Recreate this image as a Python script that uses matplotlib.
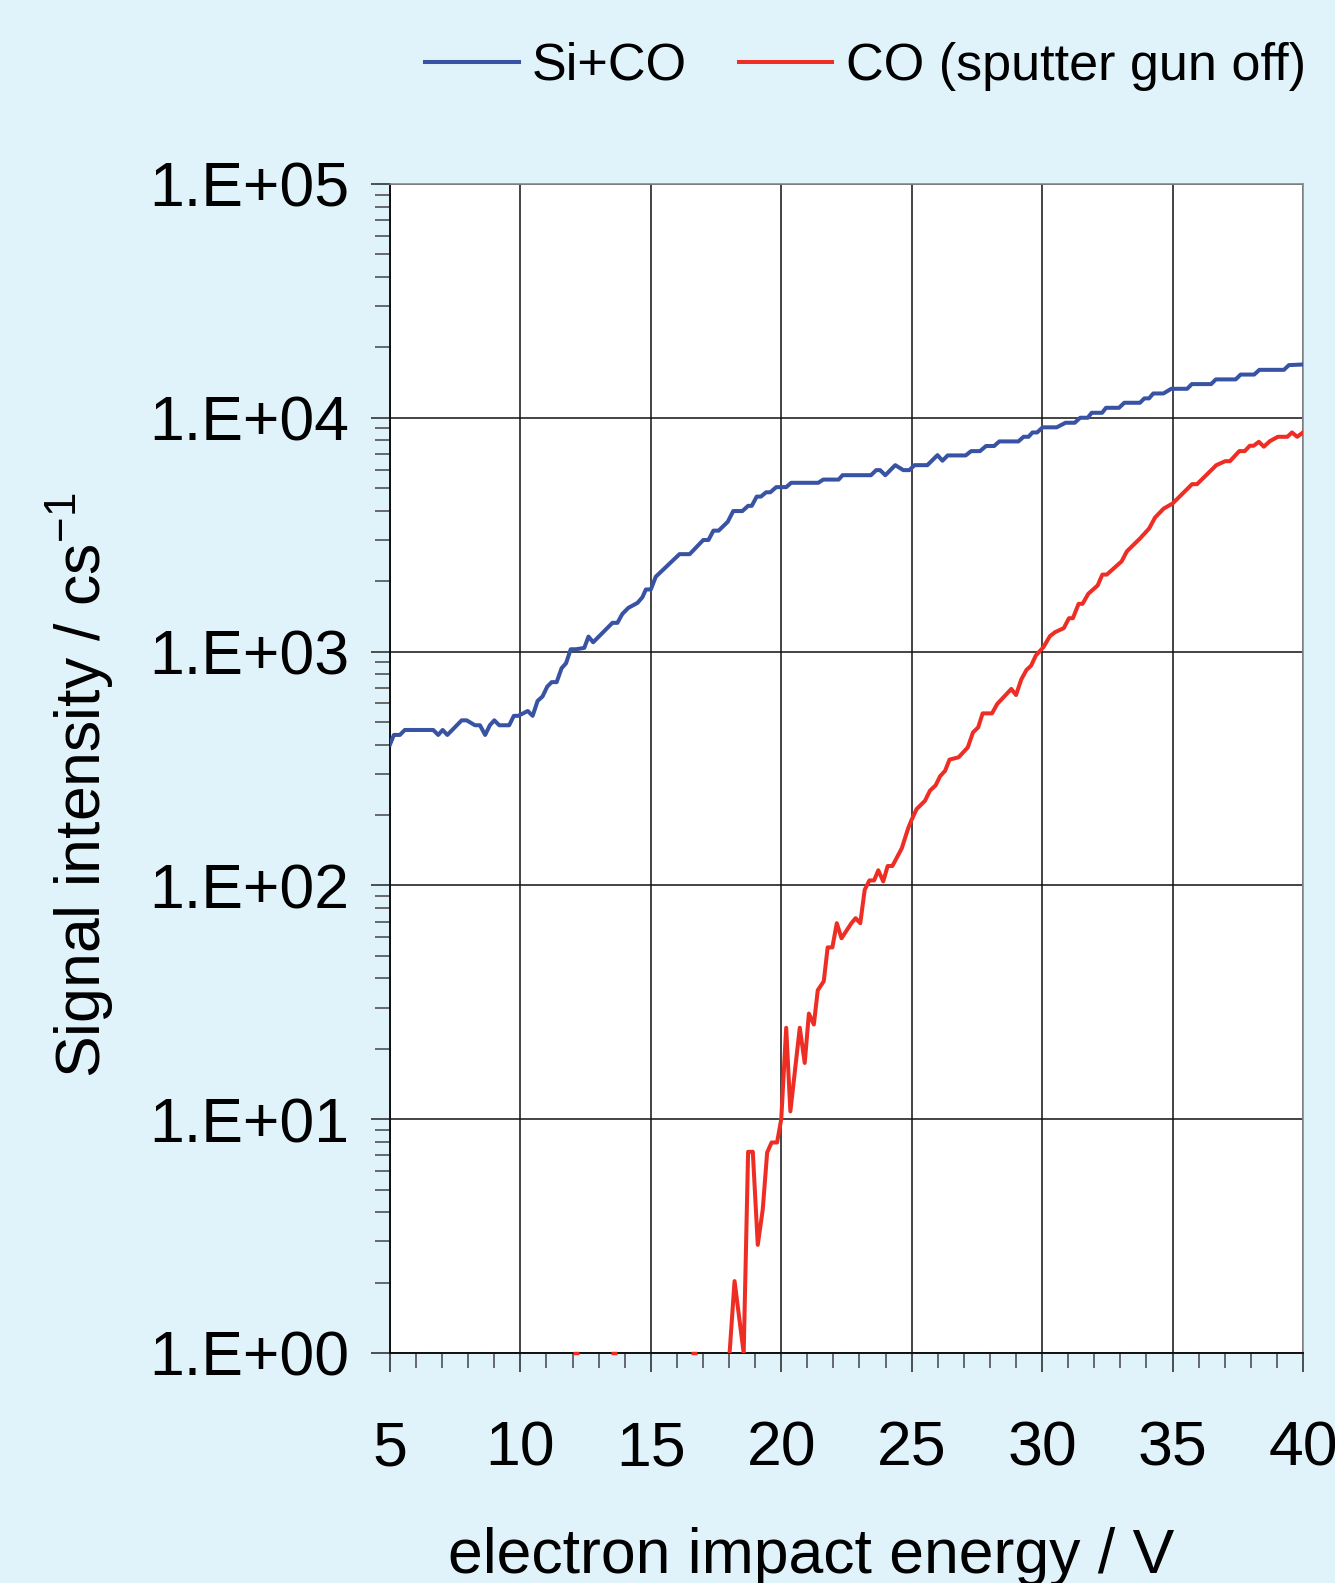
import numpy as np
import matplotlib
matplotlib.use('Agg')
import matplotlib.pyplot as plt
from matplotlib.ticker import LogLocator, MultipleLocator, FixedLocator, NullFormatter

plt.rcParams['font.family'] = ['Liberation Sans', 'DejaVu Sans']
plt.rcParams['mathtext.default'] = 'regular'

# Si+CO signal (blue)
si_co_x = [5.0, 5.15, 5.38, 5.57, 6.66, 6.85, 7.02, 7.2, 7.75, 7.94, 8.26, 8.45, 8.65, 8.83,
           9.0, 9.19, 9.57, 9.75, 9.92, 10.28, 10.47, 10.66, 10.85, 11.03, 11.2, 11.39, 11.58,
           11.75, 11.93, 12.13, 12.3, 12.45, 12.61, 12.79, 13.53, 13.72, 13.91, 14.14, 14.49,
           14.68, 14.81, 15.0, 15.19, 16.1, 16.49, 17.01, 17.21, 17.4, 17.6, 17.95, 18.16,
           18.51, 18.73, 18.87, 19.06, 19.22, 19.42, 19.58, 19.81, 20.19, 20.38, 21.42, 21.61,
           22.2, 22.35, 23.44, 23.64, 23.79, 23.99, 24.37, 24.68, 24.91, 25.11, 25.6, 25.99,
           26.18, 26.38, 27.07, 27.28, 27.62, 27.85, 28.16, 28.36, 29.09, 29.29, 29.48, 29.63,
           29.81, 30.02, 30.56, 30.9, 31.25, 31.46, 31.75, 31.9, 32.3, 32.45, 32.95, 33.15,
           33.75, 33.92, 34.1, 34.26, 34.65, 34.95, 35.56, 35.74, 36.48, 36.66, 37.42, 37.61,
           38.13, 38.33, 39.27, 39.46, 40.0]
si_co_y = [400, 440, 440, 462, 462, 440, 462, 440, 508, 508, 484, 484, 440, 484,
           508, 484, 484, 531, 531, 557, 531, 615, 643, 708, 740, 740, 849,
           891, 1023, 1023, 1030, 1037, 1159, 1096, 1327, 1327, 1449, 1538, 1615,
           1709, 1843, 1843, 2090, 2610, 2610, 3000, 3000, 3290, 3290, 3590, 3990,
           3990, 4200, 4200, 4600, 4600, 4800, 4800, 5050, 5050, 5270, 5270, 5440,
           5440, 5680, 5680, 5970, 5970, 5680, 6270, 5970, 5970, 6270, 6270, 6920,
           6550, 6900, 6900, 7200, 7200, 7570, 7570, 7920, 7920, 8290, 8290, 8650,
           8650, 9100, 9100, 9520, 9520, 10000, 10000, 10500, 10500, 11030, 11030, 11590,
           11590, 12100, 12100, 12700, 12700, 13300, 13300, 13930, 13930, 14590, 14590, 15300,
           15300, 16030, 16030, 16790, 16900]

# CO only, sputter gun off (red); zeros drop out on the log axis
co_x = [5.0, 12.0, 12.12, 12.25, 13.45, 13.59, 13.72, 16.5, 16.66, 16.8, 17.85,
        18.02, 18.21, 18.56, 18.73, 18.91, 19.1, 19.29, 19.46, 19.63, 19.84, 20.0, 20.19,
        20.35, 20.71, 20.9, 21.06, 21.25, 21.4, 21.63, 21.78, 21.96, 22.13, 22.31, 22.69,
        22.85, 23.03, 23.2, 23.38, 23.56, 23.72, 23.91, 24.08, 24.26, 24.62, 24.87, 25.0,
        25.19, 25.51, 25.7, 25.92, 26.09, 26.28, 26.45, 26.8, 27.15, 27.35, 27.55, 27.72,
        28.08, 28.28, 28.82, 29.0, 29.2, 29.4, 29.58, 29.76, 30.05, 30.3, 30.5, 30.83,
        31.03, 31.18, 31.4, 31.55, 31.77, 32.13, 32.31, 32.48, 33.05, 33.25, 33.75, 34.1,
        34.33, 34.66, 35.0, 35.75, 35.94, 36.68, 37.02, 37.2, 37.56, 37.77, 37.96, 38.11,
        38.31, 38.5, 38.73, 39.04, 39.4, 39.58, 39.78, 40.0]
co_y = [0, 0, 1, 0, 0, 1, 0, 0, 1, 0, 0,
        1, 2.03, 1, 7.25, 7.25, 2.9, 4.1, 7.2, 7.95, 7.95, 10, 24.6,
        10.8, 24.6, 17.4, 28.3, 25.4, 35.6, 38.9, 54.3, 54.3, 68.9, 59.4, 68.9,
        72.4, 68.9, 95.8, 105, 105, 116, 104, 121, 121, 144, 176, 191,
        212, 230, 254, 268, 293, 309, 345, 353, 389, 451, 474, 544,
        544, 597, 692, 652, 759, 834, 871, 962, 1044, 1164, 1211, 1259,
        1389, 1389, 1600, 1600, 1766, 1918, 2134, 2134, 2432, 2684, 3043, 3357,
        3743, 4088, 4295, 5200, 5200, 6270, 6520, 6520, 7200, 7200, 7590, 7590,
        7890, 7520, 7940, 8290, 8290, 8650, 8290, 8650]

x_ticks = [5, 10, 15, 20, 25, 30, 35, 40]
y_ticks = [1e0, 1e1, 1e2, 1e3, 1e4, 1e5]
y_ticklabels = ['1.E+00', '1.E+01', '1.E+02', '1.E+03', '1.E+04', '1.E+05']

blue = '#3953a4'
red = '#ee2e24'
bg = '#e0f2fa'

fig = plt.figure(figsize=(13.35, 15.83), dpi=100, facecolor=bg)
ax = fig.add_axes([0.2921, 0.1453, 0.6839, 0.7385])
ax.set_facecolor('white')

co_arr = np.array(co_y, dtype=float)
co_plot = np.where(co_arr > 0, co_arr, np.nan)
ax.plot(si_co_x, si_co_y, color=blue, lw=2.9, label='Si+CO', zorder=3)
ax.plot(co_x, co_plot, color=red, lw=2.9, label='CO (sputter gun off)', zorder=3)

# isolated single counts show up as small dots on the baseline
lone = [i for i in range(1, len(co_y) - 1) if co_y[i] > 0 and co_y[i - 1] == 0 and co_y[i + 1] == 0]
ax.plot([co_x[i] for i in lone], [co_y[i] for i in lone], ls='none', marker='_',
        ms=5, mew=2.5, color=red, clip_on=False, zorder=4)

ax.set_yscale('log')
ax.set_xlim(5, 40)
ax.set_ylim(1, 1e5)

ax.xaxis.set_major_locator(FixedLocator(x_ticks))
ax.xaxis.set_minor_locator(MultipleLocator(1))
ax.set_xticklabels([str(t) for t in x_ticks])
ax.yaxis.set_major_locator(FixedLocator(y_ticks))
ax.yaxis.set_minor_locator(LogLocator(base=10, subs=np.arange(2, 10)))
ax.yaxis.set_minor_formatter(NullFormatter())
ax.set_yticklabels(y_ticklabels)

ax.grid(True, which='major', color='#111111', lw=1.1, zorder=1)
ax.set_axisbelow(True)

ax.tick_params(axis='both', which='major', direction='out', length=14, width=1.1,
               color='#222222', labelsize=45)
ax.tick_params(axis='both', which='minor', direction='out', length=10.5, width=1.1,
               color='#444444')
ax.tick_params(axis='x', which='major', pad=34)
ax.tick_params(axis='y', which='major', pad=15)

for side in ['left', 'bottom']:
    ax.spines[side].set_color('#111111')
    ax.spines[side].set_linewidth(1.4)
for side in ['top', 'right']:
    ax.spines[side].set_color('#8a8a8a')
    ax.spines[side].set_linewidth(1.2)

ax.set_xlabel('electron impact energy / V', fontsize=45)
ax.xaxis.label.set_va('baseline')
ax.xaxis.set_label_coords(0.461, -0.188)
ax.set_ylabel('Signal intensity / cs$^{-1}$', fontsize=45)
ax.yaxis.set_label_coords(-0.300, 0.486)

fig.legend(loc='center right', bbox_to_anchor=(0.978, 0.958), ncol=2, frameon=False,
           fontsize=37.5, handlelength=1.8, handletextpad=0.25, columnspacing=1.0,
           borderpad=0, borderaxespad=0)

fig.savefig('out.png', dpi=100, facecolor=bg)
